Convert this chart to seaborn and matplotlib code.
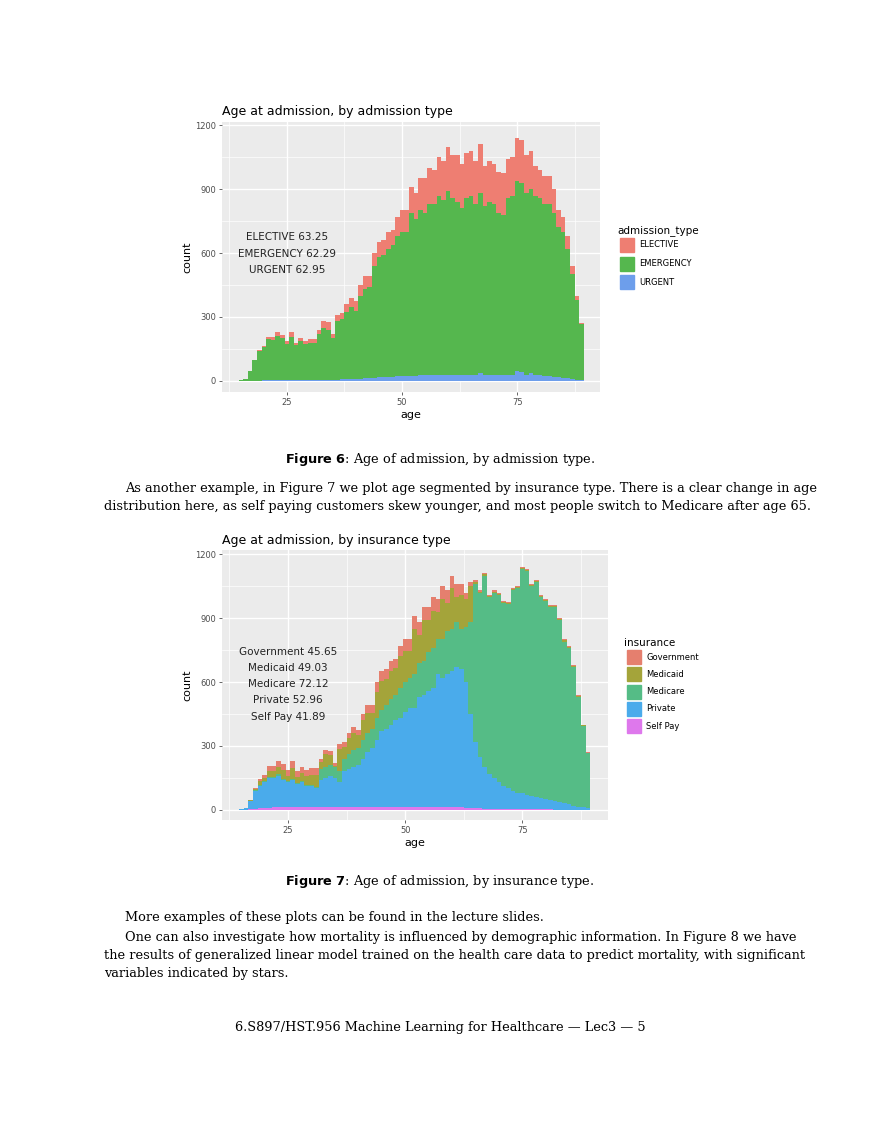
import numpy as np
import pandas as pd
import matplotlib
matplotlib.use("Agg")
import matplotlib.pyplot as plt
import seaborn as sns
from matplotlib.patches import Rectangle

ages = list(range(15, 90))
# Figure 6: cumulative tops
total_top = [5,8,45,100,145,165,205,205,230,215,185,230,180,200,185,195,195,240,280,275,220,310,320,360,390,375,450,490,490,600,650,660,700,710,770,800,800,910,880,950,950,1000,990,1050,1030,1100,1060,1060,1020,1070,1080,1030,1110,1010,1030,1020,980,975,1040,1050,1140,1130,1060,1080,1010,990,960,960,900,800,770,680,540,400,270]
green_top = [5,8,45,100,140,160,195,190,210,200,175,205,170,185,175,180,180,220,250,240,200,280,290,325,345,330,400,430,440,540,580,590,620,640,680,700,700,790,760,800,790,830,830,870,850,890,860,840,810,860,870,830,880,820,840,830,790,780,860,870,940,930,880,900,870,860,830,830,790,720,700,620,500,380,265]
urgent = [0,0,0,1,1,2,2,2,2,3,3,3,3,3,4,4,4,5,5,5,6,6,7,8,8,9,10,12,12,15,18,18,20,20,22,22,22,25,25,28,28,30,28,30,28,30,28,28,28,30,30,28,35,30,28,30,28,28,30,30,45,40,30,35,30,28,25,22,20,18,15,12,8,5,3]
adm_types = ["ELECTIVE", "EMERGENCY", "URGENT"]

# Figure 7: cumulative tops
selfpay = [0,0,2,5,8,10,10,12,14,15,14,14,13,12,12,12,12,12,12,11,11,11,11,11,11,11,11,11,11,11,11,11,11,11,11,12,12,12,12,12,13,13,13,13,12,12,12,11,10,9,8,7,6,5,5,4,4,3,3,3,3,3,2,2,2,2,2,1,1,1,1,1,1,1,0]
private_top = [5,8,40,90,110,130,150,150,160,140,130,140,120,130,110,110,100,140,150,160,150,130,180,190,200,210,240,270,290,330,370,380,400,420,430,460,480,480,530,540,560,570,640,620,640,650,670,660,600,450,320,250,200,170,150,130,110,100,90,80,80,70,65,60,55,50,45,40,35,30,25,20,15,12,8]
medicare_top = [5,8,42,92,115,135,156,156,166,146,136,146,126,136,116,116,106,190,200,210,200,180,240,260,280,290,330,360,380,430,470,490,520,540,570,600,620,640,690,700,740,760,800,800,840,850,880,850,860,880,1060,1020,1100,1000,1020,1010,970,965,1030,1040,1130,1120,1050,1070,1000,980,950,950,890,790,760,670,530,395,265]
medicaid_top = [5,8,44,96,135,150,180,180,200,185,160,195,155,175,160,165,165,225,260,255,205,285,295,335,360,350,420,455,455,555,605,615,650,665,720,745,745,850,820,890,890,935,930,990,970,1040,1000,1010,990,1050,1070,1025,1105,1005,1025,1015,975,970,1035,1045,1135,1125,1055,1075,1005,985,955,955,895,795,765,675,535,398,268]
gov_top = total_top
ins_types = ["Government", "Medicaid", "Medicare", "Private", "Self Pay"]

c_adm = ["#EE7E72", "#55B74E", "#6D9EEB"]
c_ins = ["#E57F6E", "#A4A43A", "#55BC86", "#4AABEB", "#DE78EC"]

rows = []
for i, a in enumerate(ages):
    rows += [(a, "ELECTIVE", total_top[i] - green_top[i]),
             (a, "EMERGENCY", green_top[i] - urgent[i]),
             (a, "URGENT", urgent[i])]
df1 = pd.DataFrame(rows, columns=["age", "type", "n"])
rows = []
for i, a in enumerate(ages):
    rows += [(a, "Government", gov_top[i] - medicaid_top[i]),
             (a, "Medicaid", medicaid_top[i] - medicare_top[i]),
             (a, "Medicare", medicare_top[i] - private_top[i]),
             (a, "Private", private_top[i] - selfpay[i]),
             (a, "Self Pay", selfpay[i])]
df2 = pd.DataFrame(rows, columns=["age", "type", "n"])
df1["n"] = df1["n"].clip(lower=0).astype(float)
df2["n"] = df2["n"].clip(lower=0).astype(float)
df1["age"] = df1["age"].astype(float); df2["age"] = df2["age"].astype(float)

fig = plt.figure(figsize=(8.8, 11.39), dpi=100)
W, H = 880, 1139
def ax_at(l, t, r, b):
    return fig.add_axes([l / W, 1 - b / H, (r - l) / W, (b - t) / H])

def style(ax, xlim, ylim):
    ax.set_facecolor("#EBEBEB")
    ax.set_xlim(*xlim); ax.set_ylim(*ylim)
    for v in [12.5, 37.5, 62.5, 87.5]:
        ax.axvline(v, color="white", lw=0.5, zorder=0)
    for v in [150, 450, 750, 1050]:
        ax.axhline(v, color="white", lw=0.5, zorder=0)
    for v in [25, 50, 75]:
        ax.axvline(v, color="white", lw=1.0, zorder=0)
    for v in [0, 300, 600, 900, 1200]:
        ax.axhline(v, color="white", lw=1.0, zorder=0)
    ax.set_xticks([25, 50, 75]); ax.set_yticks([0, 300, 600, 900, 1200])
    for s in ax.spines.values():
        s.set_visible(False)
    ax.tick_params(labelsize=6, colors="#4D4D4D", length=2.5, width=0.6, pad=2)
    ax.set_xlabel("age", fontsize=8, labelpad=2)
    ax.set_ylabel("count", fontsize=8, labelpad=2)

ax1 = ax_at(222, 122, 600, 392)
sns.histplot(data=df1, x="age", weights="n", hue="type", hue_order=adm_types,
             multiple="stack", binwidth=1, binrange=(14.5, 89.5), palette=c_adm,
             alpha=1, linewidth=0, legend=False, ax=ax1, zorder=2)
style(ax1, (10.9, 93), (-52, 1215))
for j, s in enumerate(["ELECTIVE 63.25", "EMERGENCY 62.29", "URGENT 62.95"]):
    ax1.text(25, 675 - j * 78, s, ha="center", va="center", fontsize=7.5, color="#222222")
fig.text(222 / W, 1 - 111 / H, "Age at admission, by admission type", fontsize=9, va="center")

ax2 = ax_at(222, 550, 608, 820)
sns.histplot(data=df2, x="age", weights="n", hue="type", hue_order=ins_types,
             multiple="stack", binwidth=1, binrange=(14.5, 89.5), palette=c_ins,
             alpha=1, linewidth=0, legend=False, ax=ax2, zorder=2)
style(ax2, (10.9, 93.3), (-48, 1220))
for j, s in enumerate(["Government 45.65", "Medicaid 49.03", "Medicare 72.12", "Private 52.96", "Self Pay 41.89"]):
    ax2.text(25, 742 - j * 76, s, ha="center", va="center", fontsize=7.5, color="#222222")
fig.text(222 / W, 1 - 540 / H, "Age at admission, by insurance type", fontsize=9, va="center")

def legend(title, x, y0, names, cols, dy):
    fig.text(x / W, 1 - y0 / H, title, fontsize=7.5, va="center")
    for k, (n, c) in enumerate(zip(names, cols)):
        y = y0 + 14 + k * dy
        fig.patches.append(Rectangle(((x + 3) / W, 1 - (y + 7) / H), 14 / W, 14 / H,
                                     transform=fig.transFigure, color=c))
        fig.text((x + 22) / W, 1 - y / H, n, fontsize=6, va="center")

legend("admission_type", 617, 231, adm_types, c_adm, 18.5)
legend("insurance", 624, 643, ins_types, c_ins, 17.3)

serif = "DejaVu Serif"
fs = 9.3
def t(x, y, s, **kw):
    fig.text(x / W, 1 - y / H, s, family=serif, fontsize=fs, va="center", **kw)
fig.text(0.5, 1 - 460 / H, r"$\bf{Figure\ 6}$: Age of admission, by admission type.",
         family=serif, fontsize=fs, ha="center", va="center")
t(125, 489, "As another example, in Figure 7 we plot age segmented by insurance type. There is a clear change in age")
t(104, 507, "distribution here, as self paying customers skew younger, and most people switch to Medicare after age 65.")
fig.text(0.5, 1 - 881 / H, r"$\bf{Figure\ 7}$: Age of admission, by insurance type.",
         family=serif, fontsize=fs, ha="center", va="center")
t(125, 918, "More examples of these plots can be found in the lecture slides.")
t(125, 937, "One can also investigate how mortality is influenced by demographic information. In Figure 8 we have")
t(104, 956, "the results of generalized linear model trained on the health care data to predict mortality, with significant")
t(104, 974, "variables indicated by stars.")
fig.text(0.5, 1 - 1028 / H, "6.S897/HST.956 Machine Learning for Healthcare — Lec3 — 5",
         family=serif, fontsize=fs, ha="center", va="center")

fig.savefig("out.png", dpi=100)
